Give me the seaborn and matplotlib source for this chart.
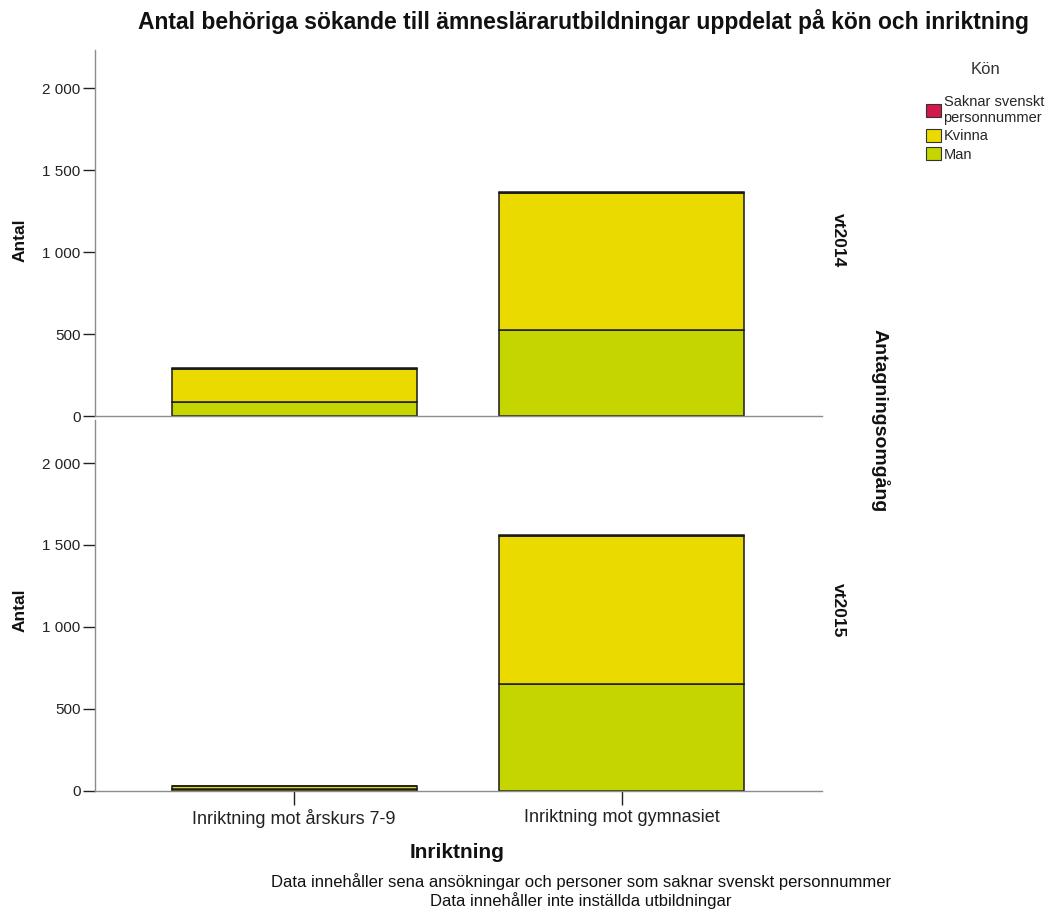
import matplotlib
matplotlib.use("Agg")
import matplotlib.pyplot as plt
import matplotlib.ticker as mticker
from matplotlib.patches import Patch
import seaborn as sns
import pandas as pd

# ---- data ----
inriktning = ["Inriktning mot årskurs 7-9", "Inriktning mot gymnasiet"]
kon_levels = ["Saknar svenskt\npersonnummer", "Kvinna", "Man"]
omgangar = ["vt2014", "vt2015"]
man_vt2014 = [83, 526]
kvinna_vt2014 = [206, 832]
saknar_vt2014 = [1, 8]
man_vt2015 = [14, 651]
kvinna_vt2015 = [14, 905]
saknar_vt2015 = [2, 7]
yticks = [0, 500, 1000, 1500, 2000]

colors = {"Saknar svenskt\npersonnummer": "#D2194B", "Kvinna": "#EBDA00", "Man": "#C5D500"}

rows = []
for omg, man, kv, sak in [("vt2014", man_vt2014, kvinna_vt2014, saknar_vt2014),
                          ("vt2015", man_vt2015, kvinna_vt2015, saknar_vt2015)]:
    for i, cat in enumerate(inriktning):
        rows.append({"omg": omg, "Inriktning": cat, "Kön": "Man", "Antal": man[i]})
        rows.append({"omg": omg, "Inriktning": cat, "Kön": "Kvinna", "Antal": kv[i]})
        rows.append({"omg": omg, "Inriktning": cat, "Kön": kon_levels[0], "Antal": sak[i]})
df = pd.DataFrame(rows)
df["Inriktning"] = pd.Categorical(df["Inriktning"], categories=inriktning)

sns.set_theme(style="white")
plt.rcParams["font.family"] = ["Liberation Sans", "DejaVu Sans"]

W, H = 1059, 915
fig = plt.figure(figsize=(W / 100, H / 100), dpi=100)
fig.patch.set_facecolor("white")

def fx(px):
    return px / W

def fy(py):
    return 1 - py / H

scale = 0.164  # px per unit
panels = [("vt2014", 50, 416), ("vt2015", 420, 791)]
axes = []
for omg, top, bot in panels:
    ax = fig.add_axes([fx(95), fy(bot), fx(822) - fx(95), (bot - top) / H])
    sub = df[df["omg"] == omg]
    sns.histplot(data=sub, x="Inriktning", weights="Antal", hue="Kön",
                 hue_order=kon_levels, palette=colors, multiple="stack",
                 discrete=True, shrink=0.747, alpha=1, edgecolor="#1a1a1a",
                 linewidth=1.1, legend=False, ax=ax)
    ax.set_xlim(-0.607, 1.61)
    ax.set_ylim(0, (bot - top) / scale)
    ax.set_yticks(yticks)
    ax.yaxis.set_major_formatter(mticker.FuncFormatter(lambda v, p: f"{int(v):,}".replace(",", " ")))
    for s in ["top", "right"]:
        ax.spines[s].set_visible(False)
    for s in ["left", "bottom"]:
        ax.spines[s].set_color("#8c8c8c")
        ax.spines[s].set_linewidth(1.0)
    ax.tick_params(axis="y", which="major", left=True, length=9, width=1,
                   color="#222222", labelsize=11, labelcolor="#222222", pad=1.5)
    ax.set_ylabel("")
    ax.set_xlabel("")
    ax.grid(False)
    axes.append(ax)

axes[0].set_xticks([])
axes[1].set_xticks([0, 1])
axes[1].set_xticklabels(inriktning, fontsize=13, color="#222222")
axes[1].tick_params(axis="x", bottom=True, length=10, width=1, color="#222222", pad=3)

# texts
fig.text(fx(584), fy(21), "Antal behöriga sökande till ämneslärarutbildningar uppdelat på kön och inriktning",
         ha="center", va="center", fontsize=16.5, fontweight="bold", color="#111111")
for yc in [240, 610]:
    fig.text(fx(20), fy(yc), "Antal", rotation=90, ha="center", va="center",
             fontsize=12.5, fontweight="bold", color="#111111")
for yc, lab in [(240, "vt2014"), (610, "vt2015")]:
    fig.text(fx(838), fy(yc), lab, rotation=-90, ha="center", va="center",
             fontsize=12.5, fontweight="bold", color="#111111")
fig.text(fx(880), fy(421), "Antagningsomgång", rotation=-90, ha="center", va="center",
         fontsize=14, fontweight="bold", color="#111111")
fig.text(fx(457), fy(853), "Inriktning", ha="center", va="center",
         fontsize=15, fontweight="bold", color="#111111")
fig.text(fx(581), fy(882), "Data innehåller sena ansökningar och personer som saknar svenskt personnummer",
         ha="center", va="center", fontsize=12, color="#111111")
fig.text(fx(581), fy(901), "Data innehåller inte inställda utbildningar",
         ha="center", va="center", fontsize=12, color="#111111")

fig.text(fx(985), fy(70), "Kön", ha="center", va="center", fontsize=12, color="#333333")
handles = [Patch(facecolor=colors[k], edgecolor="#333333", linewidth=0.8) for k in kon_levels]
leg = fig.legend(handles, kon_levels, loc="upper left",
                 bbox_to_anchor=(fx(926), fy(95)), frameon=False, fontsize=10.5,
                 handlelength=1.0, handleheight=1.0,
                 handletextpad=0.2, labelspacing=0.25, borderaxespad=0, borderpad=0)

fig.savefig("out.png", dpi=100, facecolor="white")
